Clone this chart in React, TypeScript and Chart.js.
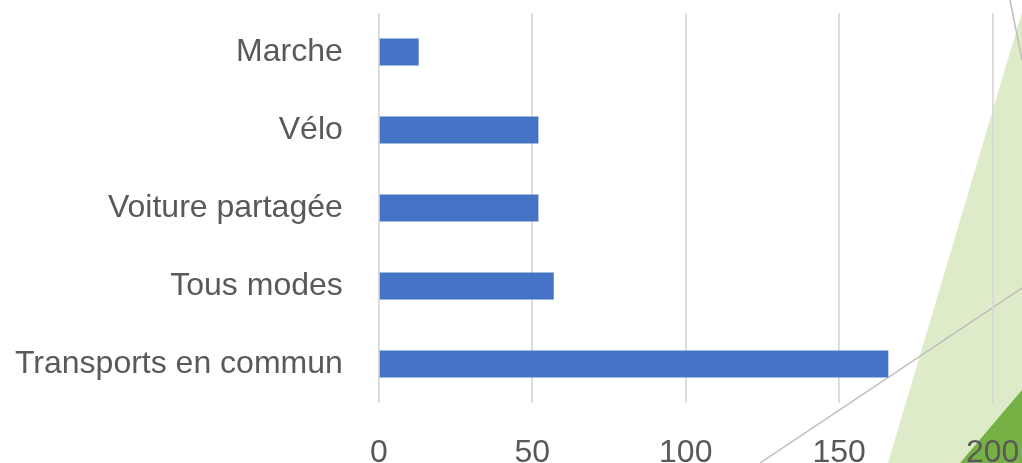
import React, { useEffect, useRef } from "react";
import { Chart, registerables } from "chart.js";

Chart.register(...registerables);

const categories = ["Marche", "Vélo", "Voiture partagée", "Tous modes", "Transports en commun"];
const values = [13, 52, 52, 57, 166];
const xMin = 0;
const xMax = 200;
const xStep = 50;

const FONT = "'Liberation Sans', Arial, sans-serif";
const TEXT = "#595959";

const decoration = {
  id: "slideDecoration",
  beforeDraw(chart: any) {
    const ctx = chart.ctx;
    const W = chart.width;
    const H = chart.height;
    ctx.save();
    ctx.fillStyle = "#DEEBC8";
    ctx.beginPath();
    ctx.moveTo(W, 12);
    ctx.lineTo(888, H);
    ctx.lineTo(W, H);
    ctx.closePath();
    ctx.fill();
    ctx.fillStyle = "#77B146";
    ctx.beginPath();
    ctx.moveTo(W, 390);
    ctx.lineTo(960, H);
    ctx.lineTo(W, H);
    ctx.closePath();
    ctx.fill();
    ctx.strokeStyle = "#BDBDBD";
    ctx.lineWidth = 1.5;
    ctx.beginPath();
    ctx.moveTo(760, 463);
    ctx.lineTo(W, 288);
    ctx.stroke();
    ctx.beginPath();
    ctx.moveTo(1010, 0);
    ctx.lineTo(W, 60);
    ctx.stroke();
    ctx.restore();
  },
};

const zeroPad = (s: any) => {
  s.paddingTop = 0;
  s.paddingBottom = 0;
  s.paddingLeft = 0;
  s.paddingRight = 0;
};

export default function App() {
  const ref = useRef<HTMLCanvasElement | null>(null);
  useEffect(() => {
    document.body.style.margin = "0";
    const chart = new Chart(ref.current!, {
      type: "bar",
      data: {
        labels: categories,
        datasets: [
          {
            data: values,
            backgroundColor: "#4472C4",
            borderWidth: 0,
            barPercentage: 0.346,
            categoryPercentage: 1,
          },
        ],
      },
      plugins: [decoration],
      options: {
        indexAxis: "y",
        animation: false,
        responsive: false,
        maintainAspectRatio: false,
        layout: { padding: { top: 13, right: 29.3, left: 0, bottom: 0 } },
        plugins: { legend: { display: false }, tooltip: { enabled: false } },
        scales: {
          x: {
            min: xMin,
            max: xMax,
            ticks: {
              stepSize: xStep,
              color: TEXT,
              padding: 31,
              font: { family: FONT, size: 32 },
              maxRotation: 0,
            },
            grid: { color: "#D9D9D9", lineWidth: 1.8, drawTicks: false },
            border: { display: false },
            afterFit: (s: any) => {
              s.height = 60;
              zeroPad(s);
            },
          },
          y: {
            ticks: {
              color: TEXT,
              padding: 36,
              font: { family: FONT, size: 32 },
            },
            grid: { display: false, drawTicks: false },
            border: { display: false },
            afterFit: (s: any) => {
              s.width = 378.8;
              zeroPad(s);
            },
          },
        },
      },
    });
    return () => chart.destroy();
  }, []);
  return (
    <div style={{ position: "fixed", left: 0, top: 0, width: 1022, height: 463, overflow: "hidden", background: "#fff" }}>
      <canvas ref={ref} width={1022} height={463} style={{ width: 1022, height: 463, display: "block" }} />
    </div>
  );
}
